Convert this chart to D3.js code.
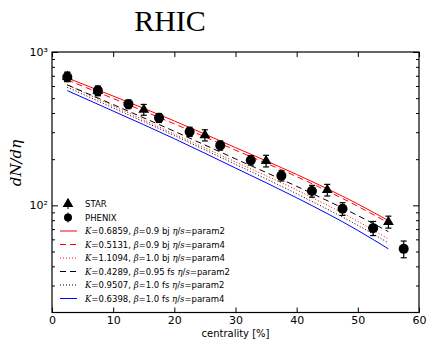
<!DOCTYPE html>
<html>
<head>
<meta charset="utf-8">
<script src="https://cdn.jsdelivr.net/npm/d3@7"></script>
<style>
body { margin: 0; background: #fff; }
svg text { font-family: "DejaVu Sans", sans-serif; }
</style>
</head>
<body>
<div id="chart"></div>
<script>
// measured data (dN/deta vs centrality)
var phenixX = [2.5, 7.5, 12.5, 17.5, 22.5, 27.5, 32.5, 37.5, 42.5, 47.5, 52.5, 57.5];
var phenixY = [687, 560, 457, 372, 302, 246, 197, 156, 124, 95, 71, 52];
var phenixErr = [46, 38, 30, 25, 21, 17, 14, 12, 11, 9, 7.5, 6.5];
var starX = [2.5, 7.5, 15, 25, 35, 45, 55];
var starY = [691, 558, 421, 287, 195, 126, 78];
var starErr = [49, 40, 34, 24, 17, 11, 7];

// model curves
var modelX = [2.5, 10, 20, 30, 40, 50, 55];
var bjP2 = [677, 516, 355, 238, 159, 102, 79.5];
var bjP4 = [657, 497, 340, 229, 154, 98.5, 76.8];
var bjP4b = [610, 445, 292, 192, 126, 78.6, 60.4];
var fsP2 = [610, 454, 304, 201, 133, 85.7, 67.4];
var fsP2b = [589, 432, 285, 185, 119, 74.0, 56.9];
var fsP4 = [560, 412, 272, 175, 112, 68.6, 52.0];

var models = [
	{K: "0.6859", beta: "0.9", t: "bj", p: "param2", y: bjP2, color: "#ff0000", dash: null},
	{K: "0.5131", beta: "0.9", t: "bj", p: "param4", y: bjP4, color: "#ff0000", dash: "6,4"},
	{K: "1.1094", beta: "1.0", t: "bj", p: "param4", y: bjP4b, color: "#ff0000", dash: "1,2"},
	{K: "0.4289", beta: "0.95", t: "fs", p: "param2", y: fsP2, color: "#000000", dash: "6,4"},
	{K: "0.9507", beta: "1.0", t: "fs", p: "param2", y: fsP2b, color: "#000000", dash: "1,2"},
	{K: "0.6398", beta: "1.0", t: "fs", p: "param4", y: fsP4, color: "#0000ff", dash: null}
];

var W = 427, H = 339;
var m = {l: 52, r: 419, t: 52, b: 312.5};
var svg = d3.select("#chart").append("svg").attr("width", W).attr("height", H);

var x = d3.scaleLinear().domain([0, 60]).range([m.l, m.r]);
var y = d3.scaleLog().domain([20, 1000]).range([m.b, m.t]);

// title
svg.append("text").attr("x", 170).attr("y", 31).attr("text-anchor", "middle")
	.style("font-family", "'Liberation Serif', 'DejaVu Serif', serif").style("font-size", "30px").text("RHIC");

// y label
svg.append("text").attr("transform", "translate(21,163) rotate(-90)")
	.attr("text-anchor", "middle")
	.style("font-family", "'DejaVu Serif', serif").style("font-style", "italic").style("font-size", "15px")
	.text("dN/dη");

// axes
var majorY = [100, 1000];
var minorY = [30, 40, 50, 60, 70, 80, 90, 200, 300, 400, 500, 600, 700, 800, 900];
var xTicks = [0, 10, 20, 30, 40, 50, 60];

svg.append("g").attr("transform", "translate(0," + m.b + ")")
	.call(d3.axisBottom(x).tickValues(xTicks).tickSizeInner(-5).tickSizeOuter(0).tickPadding(4))
	.call(function(g) { g.select(".domain").remove(); g.selectAll("text").style("font-size", "11px"); });
svg.append("g").attr("transform", "translate(0," + m.t + ")")
	.call(d3.axisTop(x).tickValues(xTicks).tickSizeInner(-5).tickSizeOuter(0).tickFormat(""))
	.call(function(g) { g.select(".domain").remove(); });

var supFmt = function(d) { return d === 1000 ? "10³" : "10²"; };
svg.append("g").attr("transform", "translate(" + m.l + ",0)")
	.call(d3.axisLeft(y).tickValues(majorY).tickSizeInner(-6).tickSizeOuter(0).tickPadding(4).tickFormat(supFmt))
	.call(function(g) { g.select(".domain").remove(); g.selectAll("text").style("font-size", "11px"); });
svg.append("g").attr("transform", "translate(" + m.l + ",0)")
	.call(d3.axisLeft(y).tickValues(minorY).tickSizeInner(-3).tickSizeOuter(0).tickFormat(""))
	.call(function(g) { g.select(".domain").remove(); });
svg.append("g").attr("transform", "translate(" + m.r + ",0)")
	.call(d3.axisRight(y).tickValues(majorY).tickSizeInner(-6).tickSizeOuter(0).tickFormat(""))
	.call(function(g) { g.select(".domain").remove(); });
svg.append("g").attr("transform", "translate(" + m.r + ",0)")
	.call(d3.axisRight(y).tickValues(minorY).tickSizeInner(-3).tickSizeOuter(0).tickFormat(""))
	.call(function(g) { g.select(".domain").remove(); });

svg.append("rect").attr("x", m.l).attr("y", m.t).attr("width", m.r - m.l).attr("height", m.b - m.t)
	.attr("fill", "none").attr("stroke", "#000").attr("stroke-width", 1.2);

svg.append("text").attr("x", (m.l + m.r) / 2).attr("y", 337).attr("text-anchor", "middle")
	.style("font-size", "10px").text("centrality [%]");

// model lines
var line = d3.line().x(function(d) { return x(d[0]); }).y(function(d) { return y(d[1]); }).curve(d3.curveMonotoneX);
models.forEach(function(md) {
	svg.append("path").datum(modelX.map(function(c, i) { return [c, md.y[i]]; }))
		.attr("d", line).attr("fill", "none").attr("stroke", md.color).attr("stroke-width", 1)
		.attr("stroke-dasharray", md.dash);
});

// error bars + markers
function errBars(xs, ys, es) {
	var g = svg.append("g").attr("stroke", "#000").attr("stroke-width", 1.2);
	xs.forEach(function(c, i) {
		var px = x(c), y1 = y(ys[i] + es[i]), y0 = y(ys[i] - es[i]);
		g.append("line").attr("x1", px).attr("x2", px).attr("y1", y1).attr("y2", y0);
		g.append("line").attr("x1", px - 3).attr("x2", px + 3).attr("y1", y1).attr("y2", y1);
		g.append("line").attr("x1", px - 3).attr("x2", px + 3).attr("y1", y0).attr("y2", y0);
	});
}
errBars(starX, starY, starErr);
errBars(phenixX, phenixY, phenixErr);

var tri = d3.symbol().type(d3.symbolTriangle).size(50);
svg.selectAll(".star").data(starX).enter().append("path")
	.attr("d", tri).attr("transform", function(d, i) { return "translate(" + x(d) + "," + y(starY[i]) + ")"; });
svg.selectAll(".phenix").data(phenixX).enter().append("circle")
	.attr("cx", function(d) { return x(d); }).attr("cy", function(d, i) { return y(phenixY[i]); }).attr("r", 5);

// legend
var lg = svg.append("g").style("font-size", "8.5px");
var ly0 = 204, ldy = 13.5, lx = 60;
lg.append("path").attr("d", tri).attr("transform", "translate(" + (lx + 8) + "," + ly0 + ")");
lg.append("line").attr("x1", lx + 8).attr("x2", lx + 8).attr("y1", ly0 - 5).attr("y2", ly0 + 5).attr("stroke", "#000");
lg.append("text").attr("x", lx + 25).attr("y", ly0 + 3).text("STAR");
lg.append("circle").attr("cx", lx + 8).attr("cy", ly0 + ldy).attr("r", 4);
lg.append("line").attr("x1", lx + 8).attr("x2", lx + 8).attr("y1", ly0 + ldy - 5).attr("y2", ly0 + ldy + 5).attr("stroke", "#000");
lg.append("text").attr("x", lx + 25).attr("y", ly0 + ldy + 3).text("PHENIX");
models.forEach(function(md, i) {
	var yy = ly0 + ldy * (i + 2);
	lg.append("line").attr("x1", lx).attr("x2", lx + 17).attr("y1", yy).attr("y2", yy)
		.attr("stroke", md.color).attr("stroke-width", 1).attr("stroke-dasharray", md.dash);
	var t = lg.append("text").attr("x", lx + 25).attr("y", yy + 3);
	var it = function(s) { t.append("tspan").style("font-family", "'DejaVu Serif', serif").style("font-style", "italic").text(s); };
	var rm = function(s) { t.append("tspan").text(s); };
	it("K"); rm("=" + md.K + ", "); it("β"); rm("=" + md.beta + " " + md.t + " "); it("η"); rm("/"); it("s"); rm("=" + md.p);
});
</script>
</body>
</html>
